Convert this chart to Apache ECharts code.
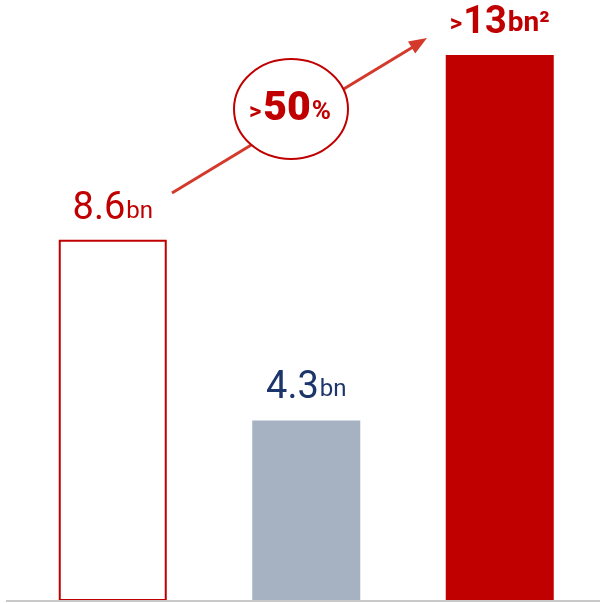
<!DOCTYPE html>
<html>
<head>
<meta charset="utf-8">
<script src="https://cdn.jsdelivr.net/npm/echarts@6/dist/echarts.min.js"></script>
<style>
  html, body { margin: 0; padding: 0; background: #ffffff; }
  #chart { width: 600px; height: 603px; }
</style>
</head>
<body>
<div id="chart"></div>
<script>
// Bar categories and values (billions)
const categories = ['Before', 'Current', 'Target'];
const values = [8.6, 4.3, 13];
const valuePrefixes = ['', '', '>'];
const valueUnits = ['bn', 'bn', 'bn\u00b2'];
// Growth badge text pieces
const growthParts = ['>', '50', '%'];

const RED = '#c00000';
const NAVY = '#1c356b';
const GREY = '#a6b1c1';
const ARROW = '#d43a2c';
const FONT = 'Roboto, "Noto Sans", sans-serif';

const itemStyles = [
  { color: '#ffffff', borderColor: RED, borderWidth: 2 },
  { color: GREY },
  { color: RED }
];
const labelTokens = [
  { pre: 'boldPre', big: 'redBig', small: 'redSmall' },
  { pre: 'boldPre', big: 'navyBig', small: 'navySmall' },
  { pre: 'boldPre', big: 'boldBig', small: 'boldSmall' }
];
const labelDistances = [11, 13, 13];

// Bottom padding lifts the smaller pieces onto the big digits' baseline
const rich = {
  redBig:   { fontFamily: FONT, fontSize: 38, color: RED,  lineHeight: 38, verticalAlign: 'bottom' },
  redSmall: { fontFamily: FONT, fontSize: 24, color: RED,  lineHeight: 30, verticalAlign: 'bottom', padding: [0, 0, 5, 1] },
  navyBig:  { fontFamily: FONT, fontSize: 38, color: NAVY, lineHeight: 38, verticalAlign: 'bottom' },
  navySmall:{ fontFamily: FONT, fontSize: 24, color: NAVY, lineHeight: 30, verticalAlign: 'bottom', padding: [0, 0, 5, 1] },
  boldPre:  { fontFamily: FONT, fontSize: 24, fontWeight: 'bold', color: RED, lineHeight: 32, verticalAlign: 'bottom', padding: [0, 1, 5, 0] },
  boldBig:  { fontFamily: FONT, fontSize: 38, fontWeight: 'bold', color: RED, lineHeight: 38, verticalAlign: 'bottom' },
  boldSmall:{ fontFamily: FONT, fontSize: 28, fontWeight: 'bold', color: RED, lineHeight: 34, verticalAlign: 'bottom', padding: [0, 0, 4, 1] }
};

const barData = values.map((v, i) => {
  const t = labelTokens[i];
  const pre = valuePrefixes[i] ? '{' + t.pre + '|' + valuePrefixes[i] + '}' : '';
  return {
    value: v,
    itemStyle: itemStyles[i],
    label: {
      show: true,
      position: 'top',
      distance: labelDistances[i],
      formatter: pre + '{' + t.big + '|' + v + '}{' + t.small + '|' + valueUnits[i] + '}',
      rich: rich
    }
  };
});

const chart = echarts.init(document.getElementById('chart'), null, { renderer: 'canvas' });

chart.setOption({
  animation: false,
  backgroundColor: '#ffffff',
  grid: { left: 16, right: 3.5, top: 13, bottom: 2, containLabel: false },
  xAxis: {
    type: 'category',
    data: categories,
    axisLine: { show: false },
    axisTick: { show: false },
    axisLabel: { show: false },
    splitLine: { show: false }
  },
  yAxis: {
    type: 'value',
    min: 0,
    max: 14,
    show: false,
    splitLine: { show: false }
  },
  series: [{
    type: 'bar',
    barWidth: 108,
    data: barData
  }],
  graphic: [
    // baseline
    { type: 'rect', z: 100, shape: { x: 6, y: 600, width: 594, height: 2 }, style: { fill: '#c8c8c8' } },
    // growth arrow
    { type: 'line', z: 50, shape: { x1: 172, y1: 193, x2: 413, y2: 47 }, style: { stroke: ARROW, lineWidth: 3 } },
    { type: 'polygon', z: 50, shape: { points: [[427, 38], [408, 41.4], [415.2, 53.4]] }, style: { fill: ARROW } },
    // growth badge
    { type: 'ellipse', z: 60, shape: { cx: 291, cy: 109, rx: 57, ry: 50 }, style: { fill: '#ffffff', stroke: RED, lineWidth: 2 } },
    {
      type: 'text', z: 70,
      style: {
        x: 290, y: 110,
        align: 'center', verticalAlign: 'middle',
        text: '{a|' + growthParts[0] + '}{b|' + growthParts[1] + '}{c|' + growthParts[2] + '}',
        rich: {
          a: { fontFamily: FONT, fontSize: 24, fontWeight: 'bold', fill: RED, lineHeight: 40, verticalAlign: 'bottom', padding: [0, 2, 6, 0] },
          b: { fontFamily: FONT, fontSize: 41, fontWeight: 900, fill: RED, lineHeight: 41, verticalAlign: 'bottom' },
          c: { fontFamily: FONT, fontSize: 26, fontWeight: 'bold', fill: RED, lineHeight: 40, verticalAlign: 'bottom', padding: [0, 0, 5, 1] }
        }
      }
    }
  ]
});
</script>
</body>
</html>
